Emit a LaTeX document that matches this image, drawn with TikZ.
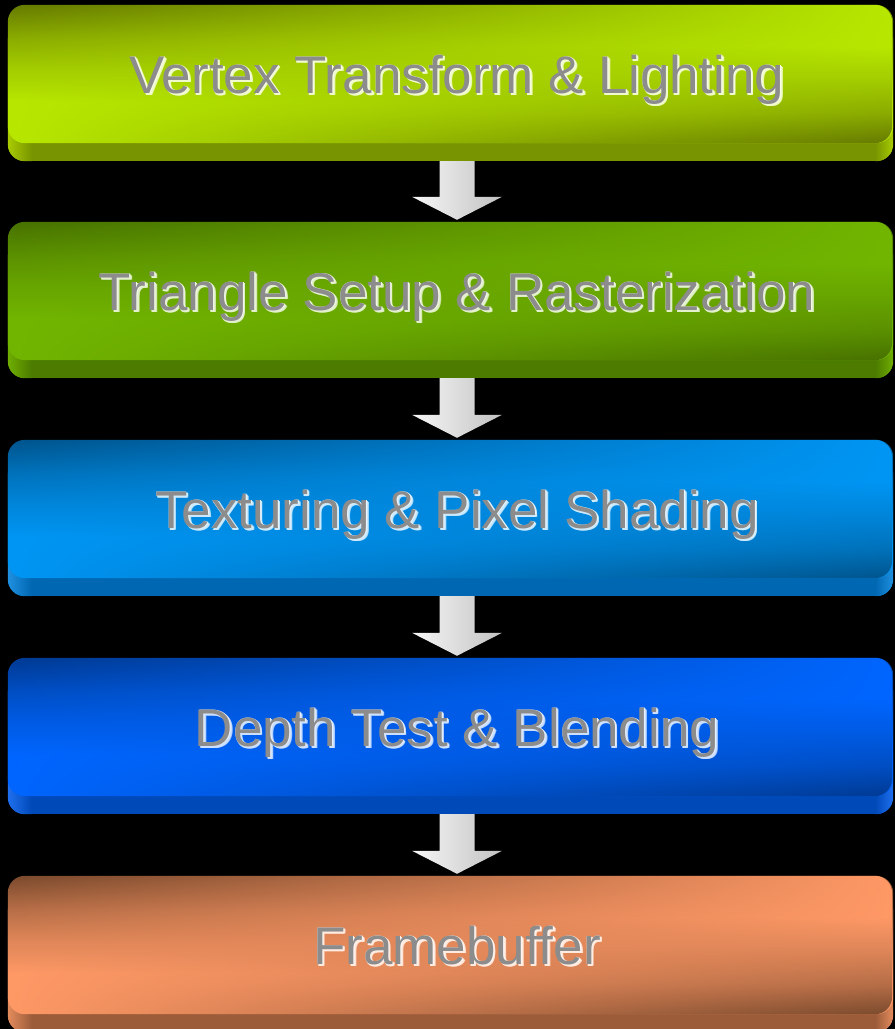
\documentclass[tikz,border=0pt]{standalone}
\usepackage{fontspec}
\setmainfont{Liberation Sans}
\usetikzlibrary{fadings,calc}

% overlay that is invisible on the left and opaque on the right
\tikzfading[name=showright, left color=transparent!100, right color=transparent!0]

\definecolor{textgray}{HTML}{8C8C8C}
\definecolor{aDark}{HTML}{657A00}\definecolor{aBright}{HTML}{B8E800}
\definecolor{aLip}{HTML}{789400}\definecolor{aHi}{HTML}{A8CC00}
\definecolor{bDark}{HTML}{477100}\definecolor{bBright}{HTML}{72B600}
\definecolor{bLip}{HTML}{4C7B00}\definecolor{bHi}{HTML}{6FAE00}
\definecolor{cDark}{HTML}{00548C}\definecolor{cBright}{HTML}{0096F4}
\definecolor{cLip}{HTML}{0067B2}\definecolor{cHi}{HTML}{2090E0}
\definecolor{dDark}{HTML}{003A92}\definecolor{dBright}{HTML}{0066FF}
\definecolor{dLip}{HTML}{0049B8}\definecolor{dHi}{HTML}{1F6FEF}
\definecolor{eDark}{HTML}{7A4A2D}\definecolor{eBright}{HTML}{FF9966}
\definecolor{eLip}{HTML}{9C5C3A}\definecolor{eHi}{HTML}{E48B5C}

\tikzset{
  stagebox/.style={rectangle, inner sep=0pt, minimum width=885pt, minimum height=138pt},
  stagelabel/.style={anchor=base, inner sep=0pt, text=textgray,
    font=\fontsize{53}{60}\selectfont},
  arrowshade/.style={left color=gray!6, right color=gray!48},
}

% caption with a light halo set below and to the right of the letters
\newcommand\halotext[2]{%
  \rlap{\kern2.5pt\raisebox{-2.5pt}{\color{#1!35!white}#2}}%
  \rlap{\kern1.5pt\raisebox{-2pt}{\color{#1!20!white}#2}}%
  \rlap{\kern2pt\raisebox{-1.2pt}{\color{#1!20!white}#2}}%
  \rlap{\kern0.8pt\raisebox{-0.8pt}{\color{#1!8!white}#2}}%
  #2}

% #1 name, #2 top edge, #3 dark, #4 bright, #5 lip, #6 lip highlight, #7 caption
\newcommand\stage[7]{%
  % left half: dark at the top; right half: dark at the bottom (stops run bottom to top)
  \colorlet{stmid}{#3!55!#4}\colorlet{stlow}{#3!25!#4}
  \pgfdeclareverticalshading{#1leftshade}{100bp}{%
    color(0bp)=(#4); color(25bp)=(#4); color(40bp)=(#4); color(52bp)=(stlow);
    color(63bp)=(stmid); color(75bp)=(#3); color(100bp)=(#3)}
  \pgfdeclareverticalshading{#1rightshade}{100bp}{%
    color(0bp)=(#3); color(25bp)=(#3); color(36bp)=(stmid); color(48bp)=(stlow);
    color(60bp)=(#4); color(75bp)=(#4); color(100bp)=(#4)}
  \node[stagebox] (#1) at (450.5,#2+69) {};
  % bottom lip
  \begin{scope}
    \clip[rounded corners=17pt] ([yshift=-18pt]#1.north west) rectangle ([yshift=-18pt]#1.south east);
    \fill[#5] ([yshift=-18pt]#1.north west) rectangle ([yshift=-18pt]#1.south east);
    \shade[left color=#6, right color=#5] ([yshift=-18pt]#1.north west) rectangle ([xshift=24pt,yshift=-18pt]#1.south west);
    \shade[left color=#5, right color=#6] ([xshift=-18pt,yshift=-18pt]#1.north east) rectangle ([yshift=-18pt]#1.south east);
  \end{scope}
  % face
  \shade[rounded corners=17pt, shading=#1leftshade]
    (#1.north west) rectangle (#1.south east);
  \shade[rounded corners=17pt, shading=#1rightshade, path fading=showright]
    (#1.north west) rectangle (#1.south east);
  \node[stagelabel] (#1text) at (457,#2+88) {\halotext{#4}{#7}};
}

% block arrow from the lip of one stage to the top of the next
\newcommand\flowarrow[2]{%
  \coordinate (#1to#2s) at ([xshift=6.5pt,yshift=-18pt]#1.south);
  \coordinate (#1to#2e) at ([xshift=6.5pt,yshift=2pt]#2.north);
  \shade[arrowshade]
    ([xshift=-17.5pt]#1to#2s) -- ([xshift=17.5pt]#1to#2s)
    -- ([xshift=17.5pt,yshift=23pt]#1to#2e) -- ([xshift=45pt,yshift=23pt]#1to#2e)
    -- (#1to#2e)
    -- ([xshift=-45pt,yshift=23pt]#1to#2e) -- ([xshift=-17.5pt,yshift=23pt]#1to#2e)
    -- cycle;
}

\begin{document}
\begin{tikzpicture}[x=1pt,y=-1pt]
  \fill[black] (0,0) rectangle (895,1029);
  \useasboundingbox (0,0) rectangle (895,1029);

  \stage{vt}{5}{aDark}{aBright}{aLip}{aHi}{Vertex Transform \& Lighting}
  \stage{ts}{222}{bDark}{bBright}{bLip}{bHi}{Triangle Setup \& Rasterization}
  \stage{tx}{440}{cDark}{cBright}{cLip}{cHi}{Texturing \& Pixel Shading}
  \stage{dt}{658}{dDark}{dBright}{dLip}{dHi}{Depth Test \& Blending}
  \stage{fb}{876}{eDark}{eBright}{eLip}{eHi}{Framebuffer}

  \flowarrow{vt}{ts}
  \flowarrow{ts}{tx}
  \flowarrow{tx}{dt}
  \flowarrow{dt}{fb}
\end{tikzpicture}
\end{document}
